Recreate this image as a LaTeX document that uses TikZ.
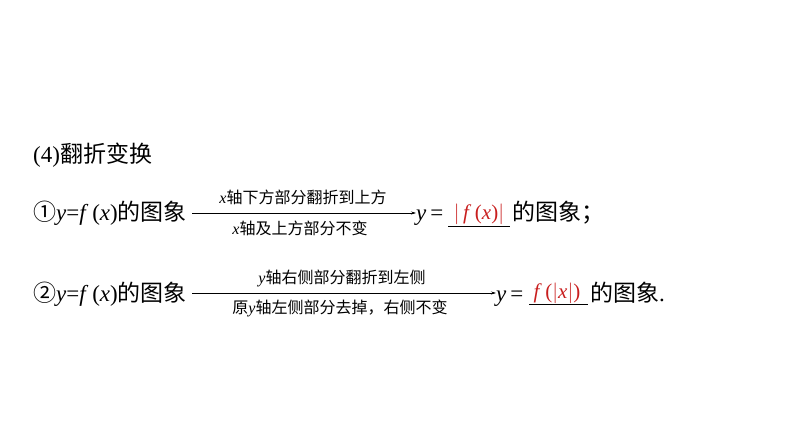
\documentclass[tikz,border=0pt]{standalone}
\usepackage{fontspec}
\setmainfont{Liberation Serif}
\newfontfamily\cjk{Noto Sans CJK SC}
\usetikzlibrary{arrows.meta}
\definecolor{myred}{RGB}{200,30,30}
\tikzset{
  main/.style={font=\fontsize{23}{26}\selectfont, inner sep=0pt, anchor=base west},
  lab/.style={font=\fontsize{16}{18}\selectfont, inner sep=0pt, anchor=base},
  ans/.style={font=\fontsize{21}{24}\selectfont, inner sep=0pt, anchor=base, text=myred},
  arr/.style={line width=0.6pt, -{Stealth[length=5pt,width=3pt]}},
  blank/.style={line width=0.6pt}
}
\begin{document}
\begin{tikzpicture}[x=1pt,y=-1pt]
\useasboundingbox (0,0) rectangle (794,446);
\node[main] (t) at (33,163) {(4){\cjk 翻折变换}};
% line 1
\node[main] (a1) at (33,221) {{\cjk ①}\textit{y}={\textit{f}\,(\textit{x})}{\cjk 的图象}};
\coordinate (s1) at (192,213);
\coordinate (e1) at (416,213);
\draw[arr] (s1) -- (e1);
\node[lab] (u1) at (303,204) {\textit{x}{\cjk 轴下方部分翻折到上方}};
\node[lab] (l1) at (300,234) {\textit{x}{\cjk 轴及上方部分不变}};
\node[main] (y1) at (416,221) {\textit{y}\,=};
\coordinate (b1s) at (448,226);
\coordinate (b1e) at (510,226);
\draw[blank] (b1s) -- (b1e);
\node[ans] (r1) at (479,219) {$|\,$\textit{f}\,(\textit{x})$|$};
\node[main] (c1) at (512,221) {{\cjk 的图象；}};
% line 2
\node[main] (a2) at (33,301) {{\cjk ②}\textit{y}={\textit{f}\,(\textit{x})}{\cjk 的图象}};
\coordinate (s2) at (192,293);
\coordinate (e2) at (496,293);
\draw[arr] (s2) -- (e2);
\node[lab] (u2) at (342,283) {\textit{y}{\cjk 轴右侧部分翻折到左侧}};
\node[lab] (l2) at (340,313) {{\cjk 原}\textit{y}{\cjk 轴左侧部分去掉，右侧不变}};
\node[main] (y2) at (496,301) {\textit{y}\,=};
\coordinate (b2s) at (529,304);
\coordinate (b2e) at (588,304);
\draw[blank] (b2s) -- (b2e);
\node[ans] (r2) at (557,298) {\textit{f}\,($|$\textit{x}$|$)};
\node[main] (c2) at (590,301) {{\cjk 的图象}.};
\end{tikzpicture}
\end{document}
